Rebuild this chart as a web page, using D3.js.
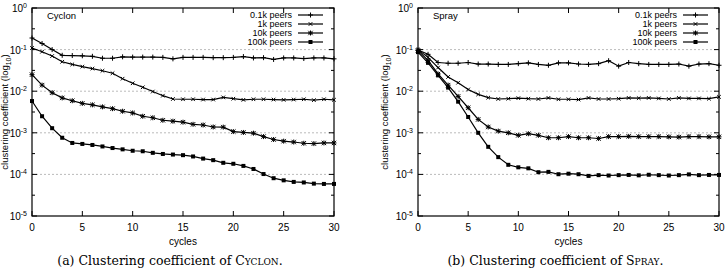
<!DOCTYPE html>
<html><head><meta charset="utf-8">
<script src="https://cdn.jsdelivr.net/npm/d3@7"></script>
<style>
html,body{margin:0;padding:0;background:#fff;}
svg{display:block;}
</style></head>
<body>
<svg id="chart" width="725" height="269"></svg>
<script>
const cycles = [0,1,2,3,4,5,6,7,8,9,10,11,12,13,14,15,16,17,18,19,20,21,22,23,24,25,26,27,28,29,30];
const seriesNames = ["0.1k peers","1k peers","10k peers","100k peers"];
const markers = ["plus","cross","star","square"];
const xTicks = [0,5,10,15,20,25,30];
const yTickExps = [0,-1,-2,-3,-4,-5];

const cyclon01k = [0.19,0.14,0.10,0.073,0.072,0.071,0.069,0.062,0.062,0.067,0.066,0.066,0.066,0.065,0.060,0.065,0.065,0.065,0.064,0.064,0.065,0.068,0.063,0.064,0.058,0.063,0.063,0.061,0.063,0.063,0.060];
const cyclon1k = [0.109,0.089,0.070,0.051,0.044,0.039,0.035,0.031,0.027,0.020,0.0155,0.0124,0.0098,0.0078,0.0065,0.0064,0.0064,0.0063,0.0063,0.0071,0.0066,0.0062,0.0064,0.0064,0.0063,0.0062,0.0063,0.0064,0.0061,0.0064,0.0062];
const cyclon10k = [0.025,0.014,0.0092,0.0069,0.0059,0.0051,0.0047,0.0042,0.0038,0.0033,0.0030,0.0025,0.0023,0.0020,0.0019,0.0018,0.0016,0.00154,0.00138,0.00137,0.00107,0.00102,0.00098,0.00081,0.00069,0.00063,0.00060,0.00056,0.00055,0.00057,0.00057];
const cyclon100k = [0.0058,0.0025,0.00129,0.00076,0.00057,0.00054,0.00051,0.00047,0.00043,0.00040,0.00037,0.00036,0.00033,0.00031,0.00030,0.00029,0.00027,0.00024,0.00022,0.00019,0.00018,0.00016,0.000135,0.000102,0.000081,0.000072,0.000066,0.000064,0.000060,0.000059,0.000059];

const spray01k = [0.098,0.077,0.049,0.047,0.047,0.049,0.045,0.045,0.044,0.044,0.046,0.048,0.044,0.042,0.048,0.048,0.045,0.044,0.046,0.054,0.040,0.049,0.046,0.044,0.044,0.044,0.045,0.040,0.045,0.046,0.042];
const spray1k = [0.10,0.065,0.037,0.022,0.016,0.011,0.0084,0.0070,0.0065,0.0066,0.0068,0.0066,0.0065,0.0069,0.0064,0.0064,0.0063,0.0069,0.0065,0.0065,0.0066,0.0069,0.0068,0.0069,0.0067,0.0065,0.0069,0.0067,0.0067,0.0066,0.0073];
const spray10k = [0.095,0.055,0.026,0.014,0.0075,0.0040,0.0021,0.00138,0.00110,0.00100,0.00087,0.00095,0.00087,0.00076,0.00076,0.00081,0.00076,0.00076,0.00073,0.00081,0.00081,0.00082,0.00081,0.00081,0.00081,0.00080,0.00079,0.00081,0.00081,0.00080,0.00080];
const spray100k = [0.087,0.048,0.024,0.0122,0.0056,0.0024,0.0010,0.00046,0.00026,0.00017,0.000148,0.00014,0.000113,0.000115,0.000101,0.000104,0.000101,0.000092,0.000096,0.000094,0.000096,0.000097,0.000095,0.000098,0.000096,0.000094,0.000096,0.000100,0.000096,0.000097,0.000097];

const panels = [
  {title:"Cyclon", caption:"(a) Clustering coefficient of ", capName:"Cyclon", series:[cyclon01k,cyclon1k,cyclon10k,cyclon100k], x0:32, x1:334, ylabX:8},
  {title:"Spray", caption:"(b) Clustering coefficient of ", capName:"Spray", series:[spray01k,spray1k,spray10k,spray100k], x0:418, x1:719, ylabX:388}
];

const svg = d3.select("#chart");
const yTop = 8, yBot = 216;
const sans = "'Liberation Sans', Arial, sans-serif";

function drawMarker(g, type, cx, cy) {
  if (type === "plus") {
    g.append("path").attr("d", `M${cx-2.5},${cy}H${cx+2.5}M${cx},${cy-2.5}V${cy+2.5}`).attr("stroke","#000").attr("stroke-width",1);
  } else if (type === "cross") {
    g.append("path").attr("d", `M${cx-1.8},${cy-1.8}L${cx+1.8},${cy+1.8}M${cx-1.8},${cy+1.8}L${cx+1.8},${cy-1.8}`).attr("stroke","#000").attr("stroke-width",1);
  } else if (type === "star") {
    g.append("path").attr("d", `M${cx-2.2},${cy-2.2}L${cx+2.2},${cy+2.2}M${cx-2.2},${cy+2.2}L${cx+2.2},${cy-2.2}M${cx-2.5},${cy}H${cx+2.5}M${cx},${cy-2.5}V${cy+2.5}`).attr("stroke","#000").attr("stroke-width",1);
  } else {
    g.append("rect").attr("x",cx-2).attr("y",cy-2).attr("width",4).attr("height",4).attr("fill","#000");
  }
}

panels.forEach(p => {
  const x = d3.scaleLinear().domain([0,30]).range([p.x0,p.x1]);
  const y = d3.scaleLog().domain([1e-5,1]).range([yBot,yTop]);
  const g = svg.append("g");

  // grid
  yTickExps.filter(e => e<0 && e>-5).forEach(e => {
    g.append("line").attr("x1",p.x0).attr("x2",p.x1).attr("y1",y(Math.pow(10,e))).attr("y2",y(Math.pow(10,e)))
      .attr("stroke","#aaa").attr("stroke-width",0.8).attr("stroke-dasharray","2,2");
  });

  // axes (inside ticks, mirrored)
  xTicks.forEach(t => {
    g.append("line").attr("x1",x(t)).attr("x2",x(t)).attr("y1",yBot).attr("y2",yBot-5).attr("stroke","#000");
    g.append("line").attr("x1",x(t)).attr("x2",x(t)).attr("y1",yTop).attr("y2",yTop+5).attr("stroke","#000");
    g.append("text").attr("x",x(t)).attr("y",231).attr("text-anchor","middle")
      .attr("font-family",sans).attr("font-size",10).text(t);
  });
  yTickExps.forEach(e => {
    const yy = y(Math.pow(10,e));
    g.append("line").attr("x1",p.x0).attr("x2",p.x0+5).attr("y1",yy).attr("y2",yy).attr("stroke","#000");
    g.append("line").attr("x1",p.x1).attr("x2",p.x1-5).attr("y1",yy).attr("y2",yy).attr("stroke","#000");
    if (e > -5) {
      const ym = y(Math.pow(10,e-0.5));
      g.append("line").attr("x1",p.x0).attr("x2",p.x0+3).attr("y1",ym).attr("y2",ym).attr("stroke","#000");
      g.append("line").attr("x1",p.x1).attr("x2",p.x1-3).attr("y1",ym).attr("y2",ym).attr("stroke","#000");
    }
    const t = g.append("text").attr("x",p.x0-5).attr("y",yy+4).attr("text-anchor","end")
      .attr("font-family",sans).attr("font-size",10);
    t.append("tspan").text("10");
    t.append("tspan").attr("dy",-4).attr("font-size",7).text(String(e));
  });
  g.append("rect").attr("x",p.x0).attr("y",yTop).attr("width",p.x1-p.x0).attr("height",yBot-yTop)
    .attr("fill","none").attr("stroke","#000").attr("stroke-width",1.2);

  // labels
  g.append("text").attr("x",(p.x0+p.x1)/2).attr("y",245).attr("text-anchor","middle")
    .attr("font-family",sans).attr("font-size",10).text("cycles");
  const yl = g.append("text").attr("transform",`translate(${p.ylabX},112) rotate(-90)`).attr("text-anchor","middle")
    .attr("font-family",sans).attr("font-size",9.5);
  yl.append("tspan").text("clustering coefficient (log");
  yl.append("tspan").attr("dy",2.5).attr("font-size",7).text("10");
  yl.append("tspan").attr("dy",-2.5).text(")");
  g.append("text").attr("x",p.x0+15).attr("y",19).attr("font-family",sans).attr("font-size",9.5).text(p.title);

  const cap = g.append("text").attr("x",(p.x0+p.x1)/2 - 13).attr("y",265).attr("text-anchor","middle")
    .attr("font-family","'DejaVu Serif','Liberation Serif',serif").attr("font-size",12.5);
  cap.append("tspan").text(p.caption);
  cap.append("tspan").attr("font-variant","small-caps").text(p.capName);
  cap.append("tspan").text(".");

  // series
  const line = d3.line().x((d,i) => x(cycles[i])).y(d => y(d));
  p.series.forEach((s,k) => {
    g.append("path").datum(s).attr("d",line).attr("fill","none").attr("stroke","#000").attr("stroke-width",1.2);
    s.forEach((v,i) => drawMarker(g, markers[k], x(cycles[i]), y(v)));
  });

  // legend
  seriesNames.forEach((n,k) => {
    const ly = 15 + k*9;
    const lx = p.x1 - 42;
    g.append("text").attr("x",lx).attr("y",ly+3.2).attr("text-anchor","end")
      .attr("font-family",sans).attr("font-size",9).text(n);
    g.append("line").attr("x1",lx+6).attr("x2",lx+31).attr("y1",ly).attr("y2",ly).attr("stroke","#000").attr("stroke-width",1.2);
    drawMarker(g, markers[k], lx+18.5, ly);
  });
});
</script>
</body></html>
